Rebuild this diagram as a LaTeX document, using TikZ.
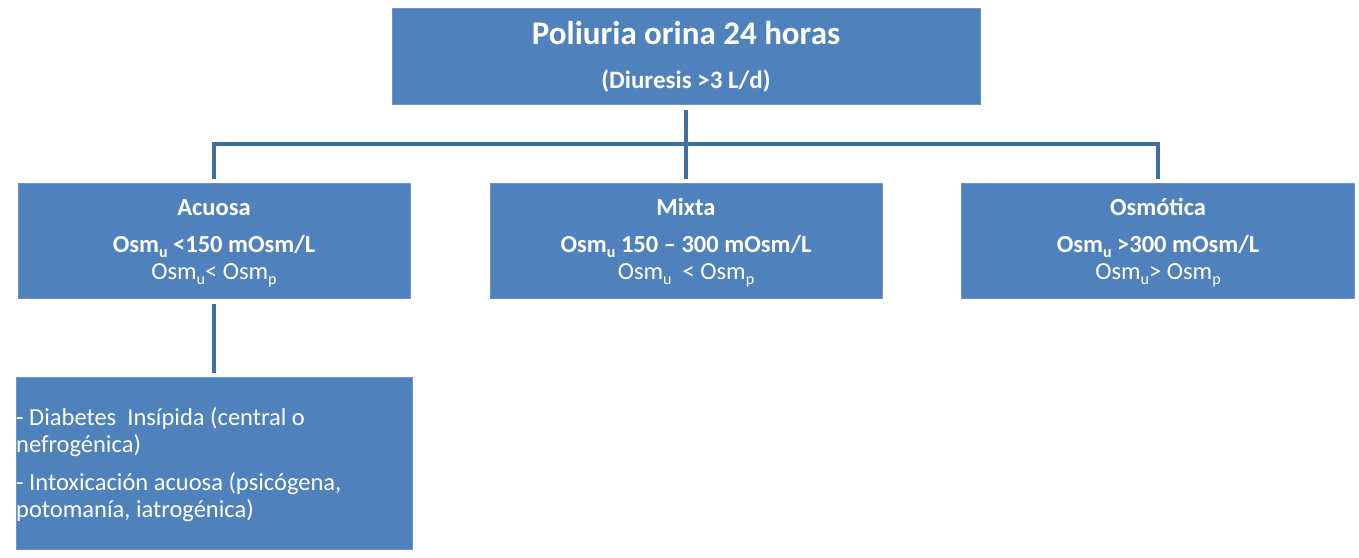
\documentclass[tikz,border=0pt]{standalone}
\usepackage{fontspec}
\setmainfont{Carlito}
\definecolor{boxblue}{HTML}{4F81BD}
\definecolor{boxedge}{HTML}{6B95C8}
\definecolor{connblue}{HTML}{3F6EA5}
\newcommand\lowsub[1]{\raisebox{-0.24em}{\fontsize{16}{18}\selectfont #1}}
\tikzset{
  box/.style={draw=boxedge, line width=0.8pt, fill=boxblue, inner sep=0pt, anchor=north west},
  txt/.style={text=white, inner sep=0pt, anchor=base},
  ltxt/.style={text=white, inner sep=0pt, anchor=base west, font=\fontsize{24.5}{28}\selectfont},
  hbold/.style={font=\fontsize{24.5}{28}\selectfont\bfseries},
  hreg/.style={font=\fontsize{24.5}{28}\selectfont},
  conn/.style={draw=connblue, line width=4pt},
}
\begin{document}
\begin{tikzpicture}[x=1pt,y=-1pt]
\useasboundingbox (0,0) rectangle (1359,557);
% boxes
\node[box, minimum width=588pt, minimum height=96pt] (top) at (392,8) {};
\node[box, minimum width=392pt, minimum height=115pt] (acuosa) at (18,183) {};
\node[box, minimum width=392pt, minimum height=115pt] (mixta) at (490,183) {};
\node[box, minimum width=393pt, minimum height=115pt] (osmotica) at (961,183) {};
\node[box, minimum width=396pt, minimum height=172pt] (causas) at (16,377) {};
% texts
\node[txt, font=\fontsize{33}{38}\selectfont\bfseries] (t1) at (686,44) {Poliuria orina 24 horas};
\node[txt, font=\fontsize{25}{29}\selectfont\bfseries] (t2) at (686,88) {(Diuresis >3 L/d)};

\node[txt, hbold] (a1) at (214,215) {Acuosa};
\node[txt, hbold] (a2) at (214,252) {Osm\lowsub{u} <150 mOsm/L};
\node[txt, hreg] (a3) at (214,279) {Osm\lowsub{u}< Osm\lowsub{p}};

\node[txt, hbold] (m1) at (686,215) {Mixta};
\node[txt, hbold] (m2) at (686,252) {Osm\lowsub{u} 150 – 300 mOsm/L};
\node[txt, hreg] (m3) at (686,279) {Osm\lowsub{u}\ \ < Osm\lowsub{p}};

\node[txt, hbold] (o1) at (1158,215) {Osmótica};
\node[txt, hbold] (o2) at (1158,252) {Osm\lowsub{u} >300 mOsm/L};
\node[txt, hreg] (o3) at (1158,279) {Osm\lowsub{u}> Osm\lowsub{p}};

\node[ltxt] (c1) at (16,425) {- Diabetes\ \ Insípida (central o};
\node[ltxt] (c2) at (16,452) {nefrogénica)};
\node[ltxt] (c3) at (16,490) {- Intoxicación acuosa (psicógena,};
\node[ltxt] (c4) at (16,517) {potomanía, iatrogénica)};
% connectors
\coordinate (hub) at (686,144);
\draw[conn] ([yshift=-5pt]top.south) -- ([yshift=4pt]mixta.north);
\draw[conn] (acuosa.north |- hub) -- (osmotica.north |- hub);
\draw[conn] ([yshift=2pt]acuosa.north |- hub) -- ([yshift=4pt]acuosa.north);
\draw[conn] ([yshift=2pt]osmotica.north |- hub) -- ([yshift=4pt]osmotica.north);
\draw[conn] ([yshift=-5pt]acuosa.south) -- ([yshift=4pt]causas.north -| acuosa.south);
\end{tikzpicture}
\end{document}
